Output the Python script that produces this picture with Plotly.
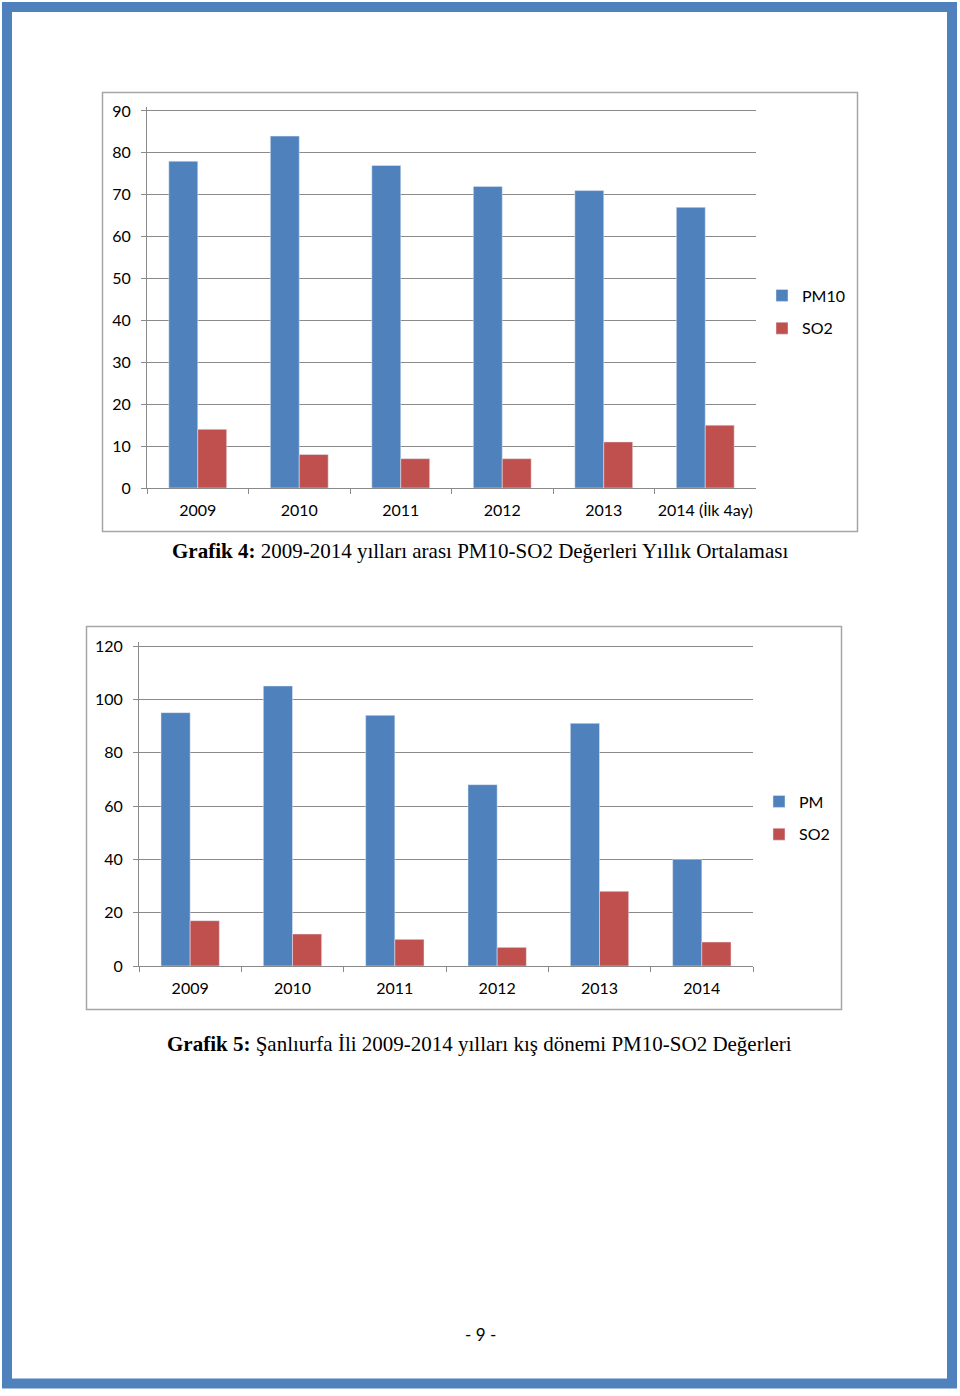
import plotly.graph_objects as go

W, H = 960, 1396

# ---- data ----
years1 = ["2009", "2010", "2011", "2012", "2013", "2014 (İlk 4ay)"]
pm10_1 = [78, 84, 77, 72, 71, 67]
so2_1 = [14, 8, 7, 7, 11, 15]

years2 = ["2009", "2010", "2011", "2012", "2013", "2014"]
pm_2 = [95, 105, 94, 68, 91, 40]
so2_2 = [17, 12, 10, 7, 28, 9]

caption1_bold = "Grafik 4:"
caption1_text = " 2009-2014 yılları arası PM10-SO2 Değerleri Yıllık Ortalaması"
caption2_bold = "Grafik 5:"
caption2_text = " Şanlıurfa İli 2009-2014 yılları kış dönemi PM10-SO2 Değerleri"
page_no = "- 9 -"

BLUE = "#4F81BD"
RED = "#C0504D"
GRID = "#8A8A8A"
BOX = "#A6A6A6"
SANS = "Lato, 'Open Sans', sans-serif"
SERIF = "'Liberation Serif', 'Times New Roman', serif"


def px(x):
    return x / W


def py(y):
    return 1 - y / H


fig = go.Figure()
fig.add_trace(go.Bar(x=years1, y=pm10_1, name="PM10", marker_color=BLUE,
                     xaxis="x", yaxis="y", legend="legend", legendgroup="a"))
fig.add_trace(go.Bar(x=years1, y=so2_1, name="SO2", marker_color=RED,
                     xaxis="x", yaxis="y", legend="legend", legendgroup="b"))
fig.add_trace(go.Bar(x=years2, y=pm_2, name="PM", marker_color=BLUE,
                     xaxis="x2", yaxis="y2", legend="legend2", legendgroup="c"))
fig.add_trace(go.Bar(x=years2, y=so2_2, name="SO2", marker_color=RED,
                     xaxis="x2", yaxis="y2", legend="legend2", legendgroup="d"))

xcommon = dict(type="category", tickson="boundaries", ticks="outside", ticklen=5,
               tickcolor=GRID, showline=True, linecolor=GRID, linewidth=1,
               showgrid=False, tickfont=dict(family=SANS, size=16, color="#000"),
               ticklabelstandoff=8, fixedrange=True)
ycommon = dict(showgrid=True, gridcolor=GRID, gridwidth=1, zeroline=False,
               showline=True, linecolor=GRID, linewidth=1, ticks="outside",
               ticklen=5, tickcolor=GRID,
               tickfont=dict(family=SANS, size=16, color="#000"),
               ticklabelstandoff=7, fixedrange=True)

legcommon = dict(font=dict(family=SANS, size=16, color="#000"),
                 traceorder="grouped", tracegroupgap=9, bgcolor="rgba(0,0,0,0)",
                 xanchor="left", yanchor="middle", itemwidth=30)

# value 0 at y=488 and 90 at y=111 (chart 1); 0 at 966 and 120 at 646 (chart 2)
# ranges extend slightly past the last tick so that the top gridline is drawn
fig.update_layout(
    width=W, height=H, margin=dict(l=0, r=0, t=0, b=0, pad=0, autoexpand=False),
    paper_bgcolor="white", plot_bgcolor="white",
    barmode="group", bargap=0.43, bargroupgap=0,
    xaxis=dict(domain=[px(147), px(756)], anchor="y", **xcommon),
    yaxis=dict(domain=[py(488), py(106.8)], anchor="x", range=[0, 91], dtick=10,
               **ycommon),
    xaxis2=dict(domain=[px(139), px(753)], anchor="y2", **xcommon),
    yaxis2=dict(domain=[py(966), py(642)], anchor="x2", range=[0, 121.5], dtick=20,
                **ycommon),
    legend=dict(x=px(762), y=py(312), **legcommon),
    legend2=dict(x=px(759), y=py(818), **legcommon),
    showlegend=True,
)

shapes = [
    # page border
    dict(type="rect", xref="paper", yref="paper", x0=px(7), x1=px(952),
         y0=py(1383.5), y1=py(7), line=dict(color=BLUE, width=10), layer="below"),
    # chart boxes
    dict(type="rect", xref="paper", yref="paper", x0=px(102.5), x1=px(857.5),
         y0=py(531.5), y1=py(92.5), line=dict(color=BOX, width=1.5), layer="below"),
    dict(type="rect", xref="paper", yref="paper", x0=px(86.5), x1=px(841.5),
         y0=py(1009.5), y1=py(626.5), line=dict(color=BOX, width=1.5), layer="below"),
]
fig.update_layout(shapes=shapes)

annotations = [
    dict(text=f"<b>{caption1_bold}</b>{caption1_text}", x=px(480), y=py(551),
         xref="paper", yref="paper", showarrow=False, xanchor="center",
         yanchor="middle", font=dict(family=SERIF, size=21, color="#000")),
    dict(text=f"<b>{caption2_bold}</b>{caption2_text}", x=px(479), y=py(1044),
         xref="paper", yref="paper", showarrow=False, xanchor="center",
         yanchor="middle", font=dict(family=SERIF, size=21, color="#000")),
    dict(text=page_no, x=px(480), y=py(1334), xref="paper", yref="paper",
         showarrow=False, xanchor="center", yanchor="middle",
         font=dict(family=SANS, size=17, color="#000")),
]
fig.update_layout(annotations=annotations)

post = ("document.documentElement.style.margin='0';"
        "document.body.style.margin='0';document.body.style.padding='0';"
        "document.body.style.overflow='hidden';"
        "var d=document.getElementById('{plot_id}');"
        "d.style.position='absolute';d.style.left='0px';d.style.top='0px';")

fig.write_html("out.html", post_script=post, config={"displayModeBar": False})
